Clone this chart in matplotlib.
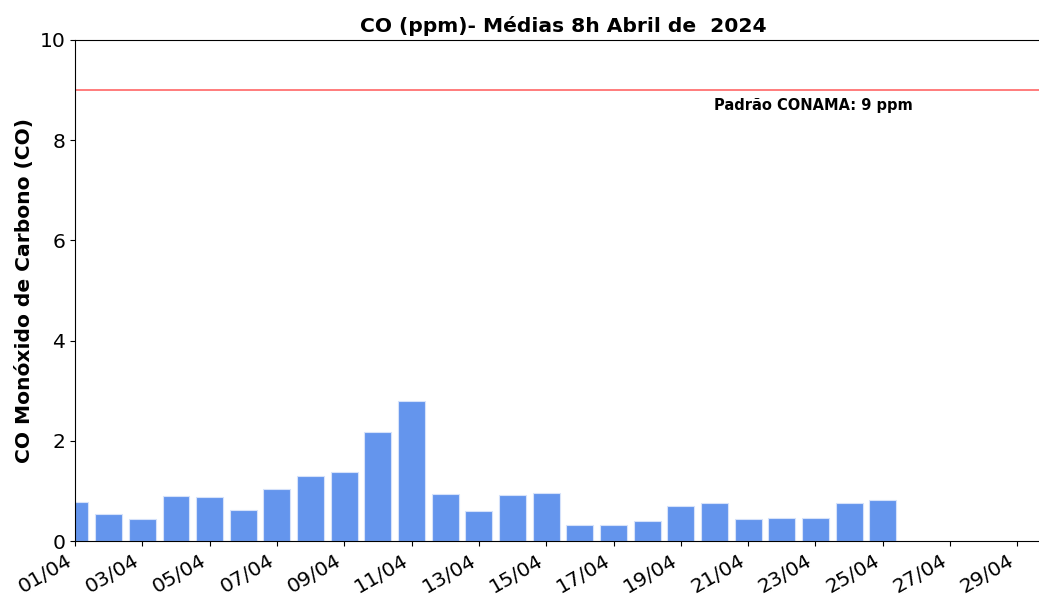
import datetime as dt

import matplotlib
matplotlib.use('Agg')
import matplotlib.pyplot as plt
import matplotlib.dates as mdates

# daily 8h averages of CO (ppm), April 2024
days = list(range(1, 26))
co_values = [0.78, 0.53, 0.43, 0.90, 0.88, 0.62, 1.04, 1.30, 1.37, 2.17,
             2.80, 0.93, 0.60, 0.92, 0.96, 0.32, 0.32, 0.39, 0.69, 0.76,
             0.43, 0.46, 0.45, 0.75, 0.82]
limit_ppm = 9
limit_label = 'Padrão CONAMA: 9 ppm'

dates = [dt.datetime(2024, 4, d) for d in days]

fig = plt.figure(figsize=(10.39, 5.94), dpi=100)
# axes runs slightly past the right border of the picture (as in the original crop)
ax = fig.add_axes([0.0722, 0.0892, 0.9394, 0.8435])

ax.bar(dates, co_values, width=0.8, color='#6495ED', edgecolor='#d6e2fa', linewidth=0.8)

# CONAMA limit
ax.axhline(limit_ppm, color='#ff6666', linewidth=1.2)
ax.text(dt.datetime(2024, 4, 20), 8.6, limit_label, fontsize=10.5, fontweight='bold')

ax.set_ylim(0, 10)
ax.set_xlim(dt.datetime(2024, 4, 1), dt.datetime(2024, 4, 30))
ax.xaxis.set_major_locator(mdates.DayLocator(bymonthday=range(1, 31, 2)))
ax.xaxis.set_major_formatter(mdates.DateFormatter('%d/%m'))
plt.setp(ax.get_xticklabels(), rotation=30, ha='right')
ax.tick_params(axis='both', labelsize=14.6)

ax.set_title('CO (ppm)- Médias 8h Abril de  2024', fontsize=14.6, fontweight='bold')
ax.set_ylabel('CO Monóxido de Carbono (CO)', fontsize=14.6, fontweight='bold')

fig.savefig('out.png', dpi=100)
